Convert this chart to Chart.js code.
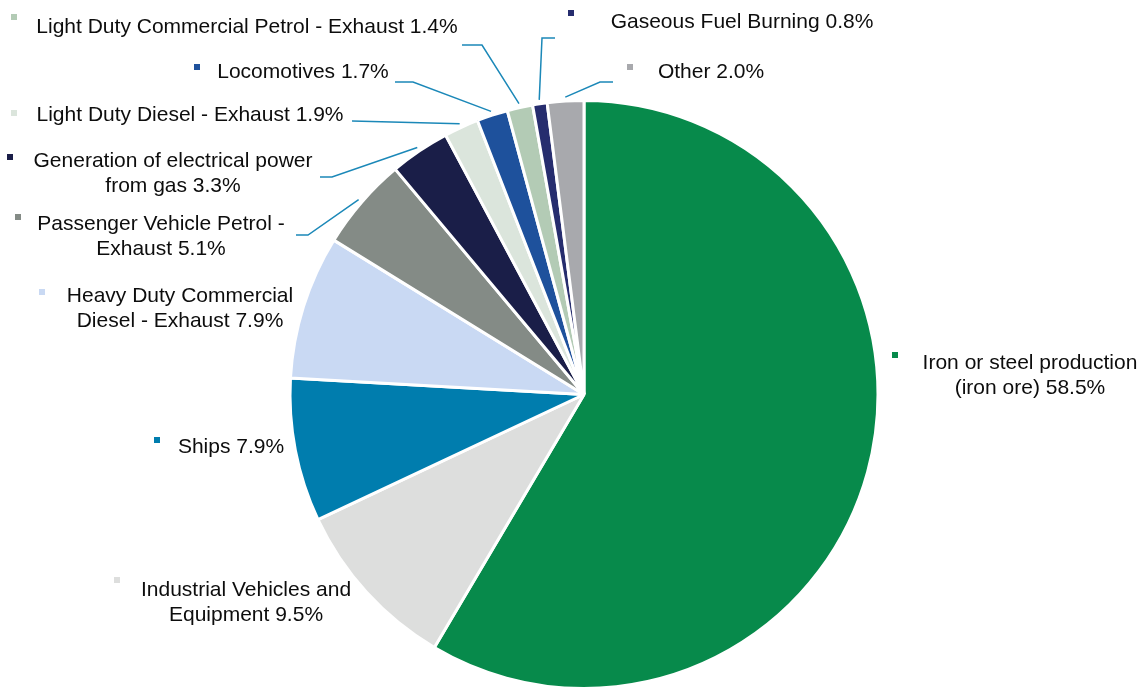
<!DOCTYPE html>
<html>
<head>
<meta charset="utf-8">
<script src="https://cdn.jsdelivr.net/npm/chart.js@4.4.1/dist/chart.umd.min.js"></script>
<style>
html, body { margin: 0; padding: 0; background: #fff; }
#wrap { width: 1147px; height: 695px; position: relative; }
</style>
</head>
<body>
<div id="wrap"><canvas id="pieChart"></canvas></div>
<script>
// data
const labelLines = [
    ['Iron or steel production', '(iron ore)'],
    ['Industrial Vehicles and', 'Equipment'],
    ['Ships'],
    ['Heavy Duty Commercial', 'Diesel - Exhaust'],
    ['Passenger Vehicle Petrol -', 'Exhaust'],
    ['Generation of electrical power', 'from gas'],
    ['Light Duty Diesel - Exhaust'],
    ['Locomotives'],
    ['Light Duty Commercial Petrol - Exhaust'],
    ['Gaseous Fuel Burning'],
    ['Other']
];
const categories = labelLines.map(l => l.join(' '));
const shares = [58.5, 9.5, 7.9, 7.9, 5.1, 3.3, 1.9, 1.7, 1.4, 0.8, 2.0];
const sliceColors = [
    '#078a4b', '#dddedd', '#007dae', '#c9d9f3', '#848b86', '#1a1e48',
    '#dbe5dc', '#1e519c', '#b3cbb5', '#262d6e', '#a8a9ad'
];

// label layout: [centre x, middle of first line y]
const labelPos = [
    [1030, 363], [246, 590], [231, 447], [180, 296], [161, 224], [173, 161],
    [190, 115], [303, 72], [247, 27], [742, 22], [711, 72]
];
// marker square centres
const markerPos = [
    [895, 355], [117, 580], [157, 440], [42, 292], [18, 217], [10, 157],
    [14, 113], [197, 67], [14, 17], [571, 13], [630, 67]
];
// leader line bends (after the point on the slice edge)
const leaders = {
    4: [[308, 235], [296, 235]],
    5: [[332, 177], [320, 177]],
    6: [[352, 121]],
    7: [[413, 82], [395, 82]],
    8: [[482, 45], [462, 45]],
    9: [[542, 38], [555, 38]],
    10: [[600, 82], [613, 82]]
};

const pieLabels = {
    id: 'pieLabels',
    afterDatasetsDraw(chart) {
        const ctx = chart.ctx;
        const arcs = chart.getDatasetMeta(0).data;
        ctx.save();

        // leader lines
        ctx.strokeStyle = '#1b88b8';
        ctx.lineWidth = 1.5;
        Object.keys(leaders).forEach(k => {
            const a = arcs[k];
            const mid = (a.startAngle + a.endAngle) / 2;
            const r = a.outerRadius + 4;
            ctx.beginPath();
            ctx.moveTo(a.x + Math.cos(mid) * r, a.y + Math.sin(mid) * r);
            leaders[k].forEach(p => ctx.lineTo(p[0], p[1]));
            ctx.stroke();
        });

        // markers and text
        ctx.font = '21px "Liberation Sans", Arial, sans-serif';
        ctx.textAlign = 'center';
        ctx.textBaseline = 'middle';
        labelLines.forEach((lines, i) => {
            ctx.fillStyle = sliceColors[i];
            ctx.fillRect(markerPos[i][0] - 3, markerPos[i][1] - 3, 6, 6);
            ctx.fillStyle = '#0d0d0d';
            lines.forEach((line, j) => {
                let txt = line;
                if (j === lines.length - 1) txt += ' ' + shares[i].toFixed(1) + '%';
                ctx.fillText(txt, labelPos[i][0], labelPos[i][1] + j * 25);
            });
        });
        ctx.restore();
    }
};

new Chart(document.getElementById('pieChart').getContext('2d'), {
    type: 'pie',
    data: {
        labels: categories,
        datasets: [{
            data: shares,
            backgroundColor: sliceColors,
            borderColor: '#ffffff',
            borderWidth: 3
        }]
    },
    options: {
        responsive: true,
        maintainAspectRatio: false,
        animation: false,
        layout: {
            padding: { top: 99, bottom: 5, left: 280, right: 259 }
        },
        plugins: {
            legend: { display: false },
            tooltip: { enabled: false }
        },
        events: []
    },
    plugins: [pieLabels]
});
</script>
</body>
</html>
